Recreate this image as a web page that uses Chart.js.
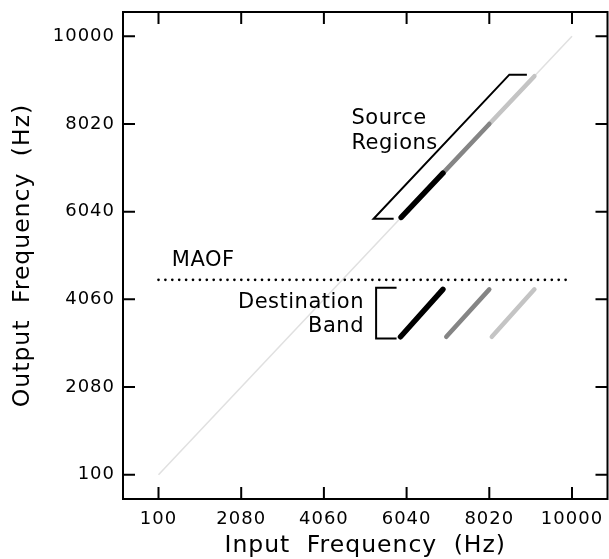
<!DOCTYPE html>
<html>
<head>
<meta charset="utf-8">
<script src="https://cdn.jsdelivr.net/npm/chart.js@4.4.1/dist/chart.umd.min.js"></script>
<style>
  html, body { margin: 0; padding: 0; background: #fff; }
</style>
</head>
<body>
<canvas id="freqChart" width="609" height="559"></canvas>
<script>
// data
const tickValues = [100, 2080, 4060, 6040, 8020, 10000];
const diagonalEnds = [100, 10000];
const maofLevel = 4500;
const sourceEdges = [5910, 6910, 8020, 9100];   // along the diagonal
const destStarts = [5895, 6990, 8080];
const destEnds = [6910, 8020, 9100];
const destBand = [3215, 4285];
const regionColors = ['#000000', '#858585', '#c4c4c4'];
const regionWidths = [5.5, 4.5, 4.5];
const sourceBracketX = [5730, 5250, 8500, 8920];
const sourceBracketY = [5880, 5880, 9135, 9135];
const destBracketX = [5800, 5310, 5310, 5800];
const destBracketY = [4320, 4320, 3175, 3175];

const pts = (xs, ys) => xs.map((x, i) => ({ x: x, y: ys[i] }));

const datasets = [];

// source regions on the diagonal
regionColors.forEach((c, i) => {
  datasets.push({
    label: 'source' + i,
    data: pts([sourceEdges[i], sourceEdges[i + 1]], [sourceEdges[i], sourceEdges[i + 1]]),
    borderColor: c,
    borderWidth: regionWidths[i],
    borderCapStyle: 'round',
    order: 1
  });
});

// destination band copies
regionColors.forEach((c, i) => {
  datasets.push({
    label: 'dest' + i,
    data: pts([destStarts[i], destEnds[i]], destBand),
    borderColor: c,
    borderWidth: regionWidths[i],
    borderCapStyle: 'round',
    order: 1
  });
});

datasets.push({
  label: 'sourceBracket',
  data: pts(sourceBracketX, sourceBracketY),
  borderColor: '#000',
  borderWidth: 2,
  order: 2
});
datasets.push({
  label: 'destBracket',
  data: pts(destBracketX, destBracketY),
  borderColor: '#000',
  borderWidth: 2,
  order: 2
});
datasets.push({
  label: 'MAOF',
  data: pts(diagonalEnds, [maofLevel, maofLevel]),
  borderColor: '#000',
  borderWidth: 2.7,
  borderDash: [0, 6.9],
  borderCapStyle: 'round',
  order: 3
});
datasets.push({
  label: 'diagonal',
  data: pts(diagonalEnds, diagonalEnds),
  borderColor: '#e0e0e0',
  borderWidth: 1.5,
  order: 10
});

datasets.forEach(d => {
  d.pointRadius = 0;
  d.fill = false;
  d.tension = 0;
});

// frame, inward ticks and the labels inside the plot
const framePlugin = {
  id: 'frame',
  beforeDraw(chart) {
    chart.ctx.letterSpacing = '1px';
    chart.ctx.wordSpacing = '8px';
  },
  beforeDatasetsDraw(chart) {
    chart.ctx.letterSpacing = '0px';
    chart.ctx.wordSpacing = '0px';
  },
  afterDatasetsDraw(chart) {
    const { ctx, chartArea: a, scales } = chart;
    const xs = scales.x, ys = scales.y;
    const tl = 12;
    ctx.save();
    ctx.strokeStyle = '#000';
    ctx.lineWidth = 2;
    ctx.strokeRect(a.left, a.top, a.right - a.left, a.bottom - a.top);
    ctx.beginPath();
    xs.ticks.forEach(t => {
      const px = xs.getPixelForValue(t.value);
      ctx.moveTo(px, a.bottom); ctx.lineTo(px, a.bottom - tl);
      ctx.moveTo(px, a.top); ctx.lineTo(px, a.top + tl);
    });
    ys.ticks.forEach(t => {
      const py = ys.getPixelForValue(t.value);
      ctx.moveTo(a.left, py); ctx.lineTo(a.left + tl, py);
      ctx.moveTo(a.right, py); ctx.lineTo(a.right - tl, py);
    });
    ctx.stroke();

    ctx.fillStyle = '#000';
    ctx.font = '21px "DejaVu Sans"';
    ctx.letterSpacing = '0.5px';
    ctx.textBaseline = 'middle';
    const put = (txt, x, y, align) => {
      ctx.textAlign = align;
      ctx.fillText(txt, xs.getPixelForValue(x), ys.getPixelForValue(y));
    };
    put('MAOF', 420, 4930, 'left');
    put('Source', 4720, 8140, 'left');
    put('Regions', 4720, 7575, 'left');
    put('Destination', 5020, 3985, 'right');
    put('Band', 5020, 3445, 'right');
    ctx.restore();
  }
};

const ctx = document.getElementById('freqChart').getContext('2d');

new Chart(ctx, {
  type: 'line',
  data: { datasets: datasets },
  options: {
    responsive: false,
    animation: false,
    devicePixelRatio: 1,
    layout: { padding: { top: 12, right: 1.5, left: 0, bottom: 0 } },
    plugins: {
      legend: { display: false },
      tooltip: { enabled: false }
    },
    scales: {
      x: {
        type: 'linear',
        min: -750,
        max: 10850,
        afterBuildTicks: s => { s.ticks = tickValues.map(v => ({ value: v })); },
        afterFit: s => { s.height = 60; s.paddingLeft = 0; s.paddingRight = 0; },
        grid: { display: false, drawTicks: false },
        border: { display: false },
        ticks: {
          autoSkip: false,
          maxRotation: 0,
          padding: 10,
          color: '#000',
          font: { family: 'DejaVu Sans', size: 18 },
          callback: v => String(v)
        },
        title: {
          display: true,
          text: 'Input Frequency (Hz)',
          color: '#000',
          font: { family: 'DejaVu Sans', size: 23.5 },
          padding: { top: 0, bottom: -1 }
        }
      },
      y: {
        type: 'linear',
        min: -450,
        max: 10550,
        afterBuildTicks: s => { s.ticks = tickValues.map(v => ({ value: v })); },
        afterFit: s => { s.width = 123; s.paddingTop = 0; s.paddingBottom = 0; },
        grid: { display: false, drawTicks: false },
        border: { display: false },
        ticks: {
          autoSkip: false,
          padding: 8,
          color: '#000',
          font: { family: 'DejaVu Sans', size: 18 },
          callback: v => String(v)
        },
        title: {
          display: true,
          text: 'Output Frequency (Hz)',
          color: '#000',
          font: { family: 'DejaVu Sans', size: 23.5 },
          padding: { top: 9, bottom: 0 }
        }
      }
    }
  },
  plugins: [framePlugin]
});
</script>
</body>
</html>
